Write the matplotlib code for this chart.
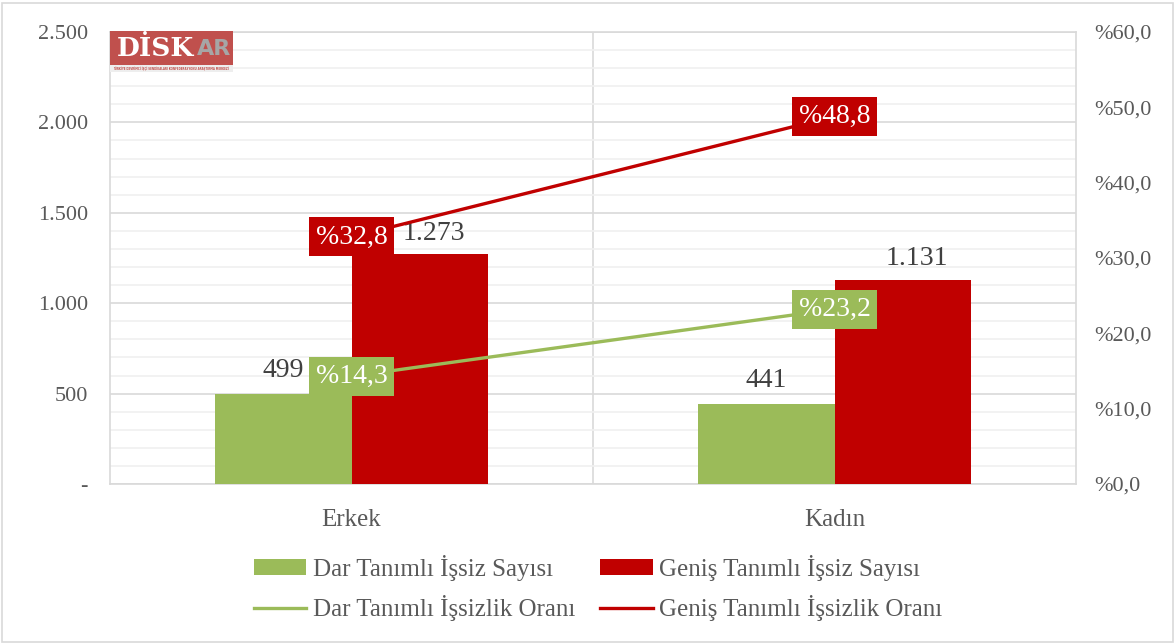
import matplotlib.pyplot as plt
import matplotlib.patches as patches
from matplotlib.lines import Line2D
from matplotlib.ticker import FixedLocator, MultipleLocator

# ---------------------------------------------------------------
# DATA
# ---------------------------------------------------------------
categories = ["Erkek", "Kadın"]
dar_sayi = [499, 441]          # Dar Tanımlı İşsiz Sayısı (bin)
genis_sayi = [1273, 1131]      # Geniş Tanımlı İşsiz Sayısı (bin)
dar_oran = [14.3, 23.2]        # Dar Tanımlı İşsizlik Oranı (%)
genis_oran = [32.8, 48.8]      # Geniş Tanımlı İşsizlik Oranı (%)

GREEN = "#9bbb59"
RED = "#c00000"
GRAY_TXT = "#595959"
LABEL_TXT = "#404040"
FONT = "Liberation Serif"


def tr_num(v):
    return f"{v:,.0f}".replace(",", ".")


def tr_pct(v):
    return "%" + f"{v:.1f}".replace(".", ",")


# ---------------------------------------------------------------
# FIGURE
# ---------------------------------------------------------------
W, H = 1176, 644
fig = plt.figure(figsize=(W / 100, H / 100), dpi=100)
plt.rcParams["font.family"] = [FONT, "DejaVu Serif"]

# outer frame of the chart
fig.patches.append(patches.Rectangle((2 / W, 2 / H), 1 - 5 / W, 1 - 5 / H,
                                     transform=fig.transFigure, fill=False,
                                     edgecolor="#d9d9d9", linewidth=1.2))

ax = fig.add_axes([110 / W, 1 - 484 / H, (1076 - 110) / W, (484 - 32) / H])
ax2 = ax.twinx()

x = list(range(len(categories)))
bw = 0.283
xg = [i - bw / 2 for i in x]
xr = [i + bw / 2 for i in x]

ax.bar(xg, dar_sayi, width=bw, color=GREEN, zorder=3)
ax.bar(xr, genis_sayi, width=bw, color=RED, zorder=3)

for xi, v in zip(xg, dar_sayi):
    ax.annotate(tr_num(v), (xi, v), xytext=(0, 8), textcoords="offset points",
                ha="center", va="bottom", fontsize=20, color=LABEL_TXT, zorder=5)
for xi, v in zip(xr, genis_sayi):
    ax.annotate(tr_num(v), (xi + 0.03, v), xytext=(0, 6), textcoords="offset points",
                ha="center", va="bottom", fontsize=20, color=LABEL_TXT, zorder=5)

ax.set_xlim(-0.5, 1.5)
ax.set_ylim(0, 2500)
ax.yaxis.set_major_locator(MultipleLocator(500))
ax.yaxis.set_minor_locator(MultipleLocator(100))
ax.set_yticklabels(["-" if t == 0 else tr_num(t) for t in ax.get_yticks()])
ax.grid(axis="y", which="major", color="#d9d9d9", linewidth=1.2, zorder=0)
ax.grid(axis="y", which="minor", color="#f0f0f0", linewidth=1.2, zorder=0)
ax.xaxis.set_minor_locator(FixedLocator([0.5]))
ax.grid(axis="x", which="minor", color="#d9d9d9", linewidth=1.2, zorder=0)
ax.set_xticks(x)
ax.set_xticklabels(categories, fontsize=18, color=GRAY_TXT)
ax.tick_params(axis="x", which="both", length=0, pad=18)
ax.tick_params(axis="y", which="both", length=0, pad=16, labelsize=16,
               labelcolor=GRAY_TXT)
for s in ax.spines.values():
    s.set_color("#d9d9d9")
    s.set_linewidth(1.2)

# secondary axis: rates
ax2.plot(x, dar_oran, color=GREEN, linewidth=2.4, zorder=4)
ax2.plot(x, genis_oran, color=RED, linewidth=2.4, zorder=4)
for xi, v in zip(x, dar_oran):
    ax2.text(xi, v, tr_pct(v), ha="center", va="center", fontsize=20, color="white",
             bbox=dict(boxstyle="square,pad=0.25", facecolor=GREEN, edgecolor="none"),
             zorder=6)
for xi, v in zip(x, genis_oran):
    ax2.text(xi, v, tr_pct(v), ha="center", va="center", fontsize=20, color="white",
             bbox=dict(boxstyle="square,pad=0.25", facecolor=RED, edgecolor="none"),
             zorder=6)
ax2.set_ylim(0, 60)
ax2.yaxis.set_major_locator(MultipleLocator(10))
ax2.set_yticklabels([tr_pct(t) for t in ax2.get_yticks()])
ax2.tick_params(axis="y", length=0, pad=13, labelsize=16, labelcolor=GRAY_TXT)
for s in ax2.spines.values():
    s.set_visible(False)

# ---------------------------------------------------------------
# LOGO
# ---------------------------------------------------------------
lax = fig.add_axes([110 / W, 1 - 72 / H, 123 / W, 41 / H])
lax.set_xlim(0, 123)
lax.set_ylim(0, 41)
lax.axis("off")
lax.add_patch(patches.Rectangle((0, 7), 123, 34, facecolor="#c0504d", edgecolor="none"))
lax.add_patch(patches.Rectangle((0, 0), 123, 7, facecolor="#eeeeee", edgecolor="none"))
lax.text(7, 23, "DİSK", fontsize=19, fontweight="bold", color="white",
         va="center", ha="left", family="DejaVu Serif")
lax.text(87, 23, "AR", fontsize=16, fontweight="bold", color="#a6a6a6",
         va="center", ha="left", family="DejaVu Sans")
lax.text(61, 3.5, "TÜRKİYE DEVRİMCİ İŞÇİ SENDİKALARI KONFEDERASYONU ARAŞTIRMA MERKEZİ",
         fontsize=1.9, color="#c0504d", ha="center", va="center",
         family="DejaVu Sans", fontweight="bold")

# ---------------------------------------------------------------
# LEGEND
# ---------------------------------------------------------------
handles = [
    patches.Patch(facecolor=GREEN, edgecolor="none"),
    Line2D([0], [0], color=GREEN, linewidth=2.4),
    patches.Patch(facecolor=RED, edgecolor="none"),
    Line2D([0], [0], color=RED, linewidth=2.4),
]
labels = [
    "Dar Tanımlı İşsiz Sayısı",
    "Dar Tanımlı İşsizlik Oranı",
    "Geniş Tanımlı İşsiz Sayısı",
    "Geniş Tanımlı İşsizlik Oranı",
]
leg = fig.legend(handles, labels, ncol=2, loc="center", bbox_to_anchor=(598 / W, 1 - 588 / H),
                 frameon=False, fontsize=18, handlelength=2.1, handleheight=0.6,
                 handletextpad=0.25, columnspacing=1.0, labelspacing=0.55)
for t in leg.get_texts():
    t.set_color(GRAY_TXT)

fig.savefig("out.png", dpi=100)
